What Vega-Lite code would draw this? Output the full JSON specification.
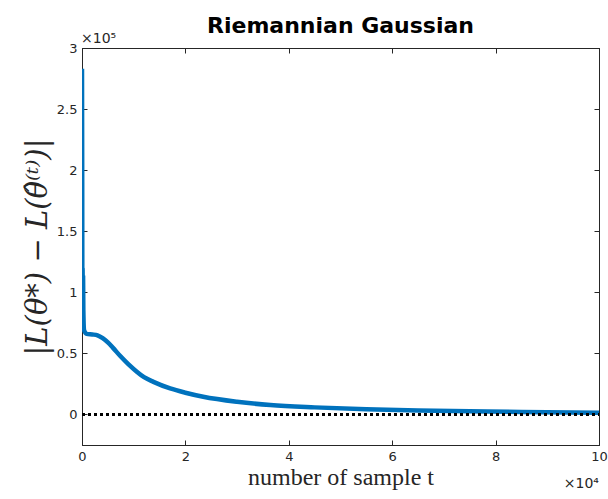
{
  "$schema": "https://vega.github.io/schema/vega-lite/v6.json",
  "width": 517,
  "height": 397,
  "autosize": {"type": "none"},
  "padding": {"left": 82, "top": 48, "right": 9, "bottom": 54},
  "background": "white",
  "config": {
    "view": {"stroke": "#262626", "strokeWidth": 1},
    "axis": {
      "grid": false,
      "domainColor": "#262626",
      "tickColor": "#262626",
      "labelColor": "#262626",
      "labelFont": "DejaVu Sans",
      "labelFontSize": 13,
      "tickSize": -5,
      "labelPadding": 10,
      "labelFlush": false
    }
  },
  "title": {
    "text": "Riemannian Gaussian",
    "font": "DejaVu Sans",
    "fontSize": 22,
    "fontWeight": "bold",
    "color": "#000000",
    "anchor": "middle",
    "offset": -6
  },
  "datasets": {
    "curve": [
      {"t": 0, "v": 283000},
      {"t": 40, "v": 200000},
      {"t": 70, "v": 95000},
      {"t": 110, "v": 120000},
      {"t": 160, "v": 88000},
      {"t": 210, "v": 112000},
      {"t": 260, "v": 85000},
      {"t": 400, "v": 69000},
      {"t": 900, "v": 66000},
      {"t": 2000, "v": 65500},
      {"t": 3000, "v": 64800},
      {"t": 4000, "v": 62500},
      {"t": 5000, "v": 59000},
      {"t": 6000, "v": 54500},
      {"t": 7360, "v": 48000},
      {"t": 9000, "v": 41000},
      {"t": 10600, "v": 35000},
      {"t": 12000, "v": 30500},
      {"t": 13820, "v": 26700},
      {"t": 17050, "v": 21300},
      {"t": 20000, "v": 17800},
      {"t": 23450, "v": 14500},
      {"t": 29980, "v": 10400},
      {"t": 36430, "v": 7700},
      {"t": 45000, "v": 5800},
      {"t": 55000, "v": 4300},
      {"t": 65000, "v": 3300},
      {"t": 75000, "v": 2600},
      {"t": 85000, "v": 2000},
      {"t": 100000, "v": 1400}
    ],
    "zero": [
      {"t": 0, "v": 0},
      {"t": 100000, "v": 0}
    ],
    "expx": [{"t": 100000, "v": -25000, "label": "×10⁴"}],
    "expy": [{"t": 0, "v": 300000, "label": "×10⁵"}]
  },
  "layer": [
    {
      "data": {"name": "curve"},
      "mark": {"type": "line", "color": "#0072BD", "strokeWidth": 4.5, "clip": true, "interpolate": "monotone"},
      "encoding": {
        "x": {
          "field": "t",
          "type": "quantitative",
          "scale": {"domain": [0, 100000], "nice": false, "zero": false},
          "axis": {
            "values": [0, 20000, 40000, 60000, 80000, 100000],
            "labelExpr": "datum.value / 10000",
            "title": "number of sample t",
            "titleFont": "Liberation Serif",
            "titleFontSize": 24,
            "titleFontWeight": "normal",
            "titleColor": "#262626",
            "titlePadding": 2
          }
        },
        "y": {
          "field": "v",
          "type": "quantitative",
          "scale": {"domain": [-25000, 300000], "nice": false, "zero": false},
          "axis": {
            "values": [0, 50000, 100000, 150000, 200000, 250000, 300000],
            "labelExpr": "datum.value / 100000",
            "title": "|L(θ*) − L(θ̂⁽ᵗ⁾)|",
            "titleFont": "DejaVu Serif",
            "titleFontStyle": "italic",
            "titleFontSize": 29,
            "titleFontWeight": "normal",
            "titleColor": "#262626",
            "titlePadding": 4
          }
        }
      }
    },
    {
      "data": {"name": "curve"},
      "mark": {"type": "point", "opacity": 0},
      "encoding": {
        "x": {
          "field": "t",
          "type": "quantitative",
          "axis": {"orient": "top", "values": [0, 20000, 40000, 60000, 80000, 100000], "labels": false, "title": null}
        },
        "y": {
          "field": "v",
          "type": "quantitative",
          "axis": {"orient": "right", "values": [0, 50000, 100000, 150000, 200000, 250000, 300000], "labels": false, "title": null}
        }
      }
    },
    {
      "data": {"name": "zero"},
      "mark": {"type": "line", "color": "#000000", "strokeWidth": 3, "strokeDash": [3, 3]},
      "encoding": {
        "x": {"field": "t", "type": "quantitative", "axis": null},
        "y": {"field": "v", "type": "quantitative", "axis": null}
      }
    },
    {
      "data": {"name": "expy"},
      "mark": {"type": "text", "align": "left", "baseline": "bottom", "dx": -1, "dy": -2, "font": "DejaVu Sans", "fontSize": 14, "color": "#262626"},
      "encoding": {
        "x": {"field": "t", "type": "quantitative", "axis": null},
        "y": {"field": "v", "type": "quantitative", "axis": null},
        "text": {"field": "label"}
      }
    },
    {
      "data": {"name": "expx"},
      "mark": {"type": "text", "align": "right", "baseline": "top", "dx": 0, "dy": 32, "font": "DejaVu Sans", "fontSize": 14, "color": "#262626"},
      "encoding": {
        "x": {"field": "t", "type": "quantitative", "axis": null},
        "y": {"field": "v", "type": "quantitative", "axis": null},
        "text": {"field": "label"}
      }
    }
  ],
  "resolve": {"axis": {"x": "independent", "y": "independent"}}
}
